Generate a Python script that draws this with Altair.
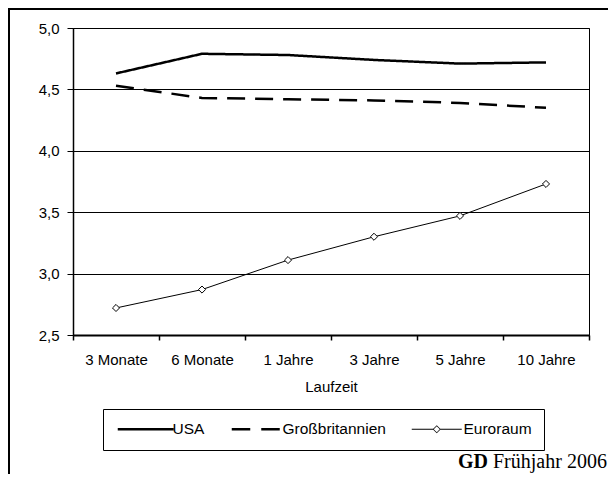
import altair as alt
import pandas as pd

laufzeit = ["3 Monate", "6 Monate", "1 Jahre", "3 Jahre", "5 Jahre", "10 Jahre"]
serien = ["USA", "Großbritannien", "Euroraum"]
usa = [4.63, 4.79, 4.78, 4.74, 4.71, 4.72]
gb = [4.53, 4.43, 4.42, 4.41, 4.39, 4.35]
euro = [2.72, 2.87, 3.11, 3.30, 3.47, 3.73]
y_ticks = [2.5, 3.0, 3.5, 4.0, 4.5, 5.0]

rows = []
for s, vals in zip(serien, [usa, gb, euro]):
    for k, v in zip(laufzeit, vals):
        rows.append({"Laufzeit": k, "Wert": v, "Serie": s})
df = pd.DataFrame(rows)
legend_df = pd.DataFrame({"Serie": serien})

FONT = "Liberation Sans"

x_enc = alt.X(
    "Laufzeit:N",
    sort=laufzeit,
    bandPosition=0.5,
    scale=alt.Scale(type="band", domain=laufzeit, paddingInner=0, paddingOuter=0),
    axis=alt.Axis(
        title="Laufzeit", tickBand="extent", labelAngle=0, grid=False,
        domainWidth=2, tickWidth=1.5, tickSize=5, labelPadding=12, titlePadding=12,
    ),
)
y_enc = alt.Y(
    "Wert:Q",
    scale=alt.Scale(domain=[2.5, 5.0], nice=False, zero=False),
    axis=alt.Axis(
        title=None, values=y_ticks, grid=True, gridColor="black", gridWidth=1,
        labelExpr="replace(format(datum.value, '.1f'), '.', ',')",
        domainWidth=1.5, tickWidth=1, tickSize=6, labelPadding=8,
    ),
)

base = alt.Chart(df)

thick_lines = base.transform_filter(alt.datum.Serie != "Euroraum").mark_line(
    color="black", strokeWidth=2.5
).encode(
    x=x_enc,
    y=y_enc,
    detail="Serie:N",
    strokeDash=alt.StrokeDash(
        "Serie:N",
        scale=alt.Scale(domain=["USA", "Großbritannien"], range=[[1, 0], [18, 10]]),
        legend=None,
    ),
)

euro_line = base.transform_filter(alt.datum.Serie == "Euroraum").mark_line(
    color="black", strokeWidth=1
).encode(x=x_enc, y=y_enc)

points = base.transform_filter(alt.datum.Serie == "Euroraum").mark_point(
    shape="diamond", filled=True, fill="white", stroke="black",
    strokeWidth=1, size=50, opacity=1,
).encode(x=x_enc, y=y_enc)

# legend symbols as filled paths; symbol size 100 -> 1 unit = 5 px
legend_paths = [
    "M-5.6,-0.25H5.6V0.25H-5.6Z",
    "M-4.8,-0.25H-1.1V0.25H-4.8ZM1.1,-0.25H4.8V0.25H1.1Z",
    "M-5,-0.1H-0.7V0.1H-5ZM0.7,-0.1H5V0.1H0.7Z"
    "M-0.8,0L0,-0.8L0.8,0L0,0.8ZM-0.6,0L0,0.6L0.6,0L0,-0.6Z",
]

legend_layer = alt.Chart(legend_df).mark_point(
    filled=True, color="black", size=100, opacity=1, strokeWidth=0,
).encode(
    x=alt.value(-2000),
    y=alt.value(-2000),
    shape=alt.Shape(
        "Serie:N",
        scale=alt.Scale(domain=serien, range=legend_paths),
        legend=alt.Legend(
            title=None, orient="none", legendX=30, legendY=381,
            direction="horizontal", symbolSize=100,
            symbolOffset=23, labelOffset=19,
            labelFont=FONT, labelFontSize=15.5, labelColor="black",
            columnPadding=20, padding=12,
            strokeColor="black", symbolFillColor="black",
            symbolStrokeWidth=0,
        ),
    ),
)

one = pd.DataFrame({"r": [0]})
frame_left = alt.Chart(one).mark_rule(color="black", strokeWidth=2).encode(
    x=alt.value(-64), y=alt.value(-21), y2=alt.value(448)
)
frame_top = alt.Chart(one).mark_rule(color="black", strokeWidth=2).encode(
    x=alt.value(-66), x2=alt.value(536), y=alt.value(-19)
)

src_gd = alt.Chart(pd.DataFrame({"t": ["GD"]})).mark_text(
    font="Liberation Serif", fontSize=20, fontWeight="bold",
    align="right", baseline="alphabetic", color="black",
).encode(x=alt.value(415), y=alt.value(440), text="t:N")
src_rest = alt.Chart(pd.DataFrame({"t": ["Frühjahr 2006"]})).mark_text(
    font="Liberation Serif", fontSize=20,
    align="left", baseline="alphabetic", color="black",
).encode(x=alt.value(420), y=alt.value(440), text="t:N")

chart = alt.layer(
    frame_left, frame_top, thick_lines, euro_line, points, legend_layer,
    src_gd, src_rest
).properties(
    width=516,
    height=307,
    autosize=alt.AutoSizeParams(type="none"),
    padding={"left": 65, "top": 20, "right": 19, "bottom": 139},
    background="white",
).configure_view(
    stroke="black", strokeWidth=1
).configure_axis(
    labelFont=FONT, labelFontSize=15, labelColor="black",
    titleFont=FONT, titleFontSize=15, titleFontWeight="normal", titleColor="black",
    domainColor="black", tickColor="black",
).configure_legend(
    strokeWidth=1
)

chart.save("out.html", embed_options={"renderer": "svg", "actions": False})
